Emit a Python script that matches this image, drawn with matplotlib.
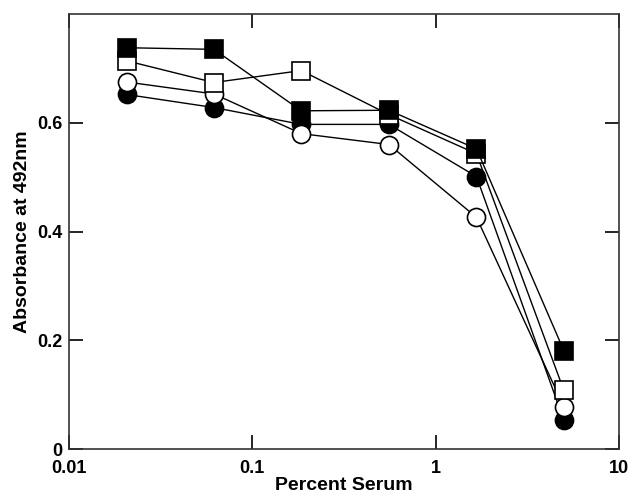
import numpy as np
import matplotlib
matplotlib.use('Agg')
import matplotlib.pyplot as plt
from matplotlib.ticker import FixedLocator, NullLocator

plt.rcParams['font.family'] = ['Liberation Sans', 'DejaVu Sans']
plt.rcParams['font.weight'] = 'bold'

# Serum dilution series (3-fold)
percent_serum = [0.0206, 0.0617, 0.185, 0.556, 1.67, 5.0]

filled_circle = [0.652, 0.628, 0.597, 0.597, 0.501, 0.053]
open_circle = [0.675, 0.653, 0.580, 0.560, 0.426, 0.078]
filled_square = [0.738, 0.735, 0.622, 0.623, 0.552, 0.181]
open_square = [0.714, 0.674, 0.696, 0.615, 0.543, 0.108]

fig = plt.figure(figsize=(6.29, 4.95), dpi=100)
ax = fig.add_axes([0.1097, 0.0929, 0.8744, 0.8788])

ms = 13
ax.plot(percent_serum, filled_circle, '-o', color='black', lw=1.0,
        ms=ms, mfc='black', mec='black', mew=1.2)
ax.plot(percent_serum, open_circle, '-o', color='black', lw=1.0,
        ms=ms, mfc='white', mec='black', mew=1.2)
ax.plot(percent_serum, open_square, '-s', color='black', lw=1.0,
        ms=ms, mfc='white', mec='black', mew=1.2)
ax.plot(percent_serum, filled_square, '-s', color='black', lw=1.0,
        ms=ms, mfc='black', mec='black', mew=1.2)

ax.set_xscale('log')
ax.set_xlim(0.01, 10)
ax.set_ylim(0, 0.8)

ax.xaxis.set_major_locator(FixedLocator([0.01, 0.1, 1, 10]))
ax.xaxis.set_minor_locator(NullLocator())
ax.set_xticklabels(['0.01', '0.1', '1', '10'])
ax.set_yticks([0, 0.2, 0.4, 0.6])
ax.set_yticklabels(['0', '0.2', '0.4', '0.6'])

ax.tick_params(direction='in', length=10, width=1.2, top=True, right=True,
               labelsize=13)
ax.tick_params(axis='x', pad=8)
ax.tick_params(axis='y', pad=5)
for s in ax.spines.values():
    s.set_linewidth(1.2)
    s.set_color('#333333')

ax.set_xlabel('Percent Serum', fontsize=14, fontweight='bold', labelpad=0)
ax.set_ylabel('Absorbance at 492nm', fontsize=14, fontweight='bold', labelpad=4)

fig.savefig('out.png', dpi=100)
